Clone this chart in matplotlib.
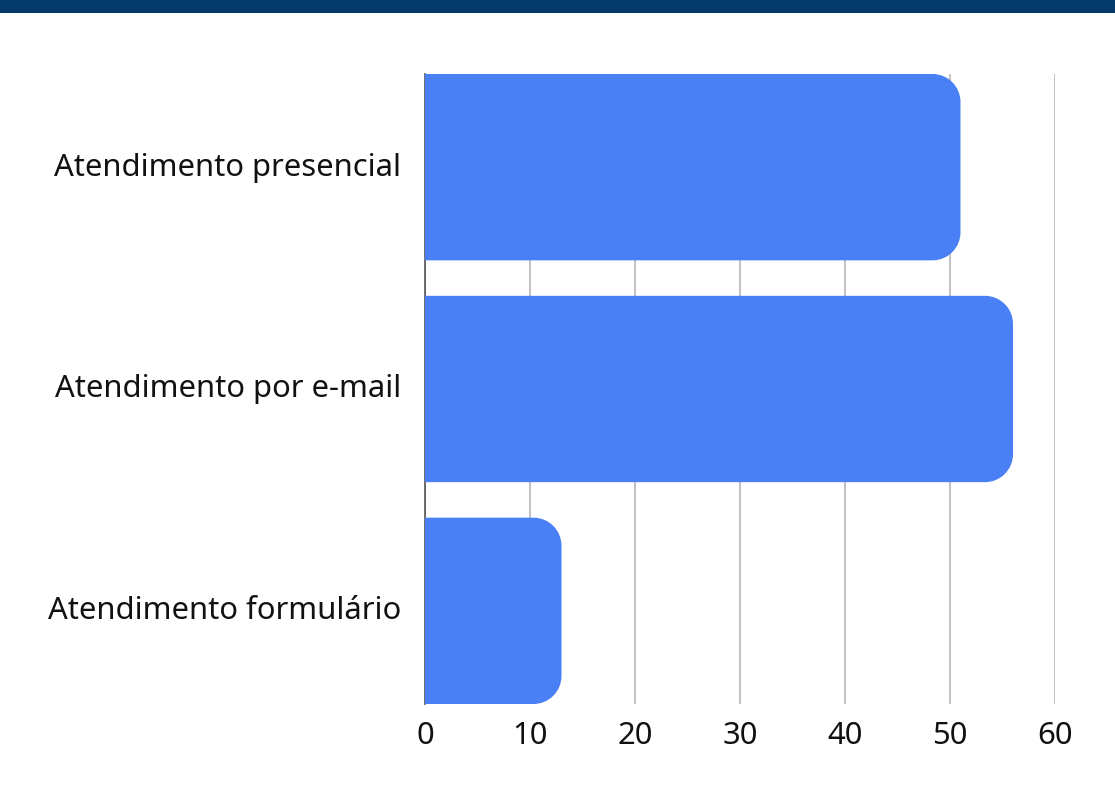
import matplotlib
matplotlib.use('Agg')
import matplotlib.pyplot as plt
import matplotlib.transforms as mtransforms
from matplotlib.patches import PathPatch, Rectangle
from matplotlib.path import Path

# data
categorias = ['Atendimento presencial', 'Atendimento por e-mail', 'Atendimento formulário']
valores = [51, 56, 13]
xticks = [0, 10, 20, 30, 40, 50, 60]

COR_BARRA = '#4a80f6'
COR_FAIXA = '#03396b'

W, H = 1115, 793
plt.rcParams['font.family'] = ['Noto Sans', 'DejaVu Sans']

fig = plt.figure(figsize=(W / 100, H / 100), dpi=100)
fig.patch.set_facecolor('white')

# top band
fig.patches.append(Rectangle((0, (H - 13) / H), 1, 13 / H, transform=fig.transFigure,
                             facecolor=COR_FAIXA, edgecolor='none', zorder=0))

ax_l, ax_r, ax_t, ax_b = 425, 1055, 74, 704
ax = fig.add_axes([ax_l / W, (H - ax_b) / H, (ax_r - ax_l) / W, (ax_b - ax_t) / H])

altura = 0.84
ax.set_xlim(0, 60)
ax.set_ylim(2 + altura / 2, -altura / 2)

# corner radius in pixels -> data units
raio_px = 28
px_x = (ax_r - ax_l) / 60.0
px_y = (ax_b - ax_t) / (2 + altura)
rx = raio_px / px_x
ry = raio_px / px_y
k = 0.5523


def barra_arredondada(v, y0, h):
    """bar with square left end and rounded right corners"""
    y1 = y0 + h
    verts = [(0, y0), (v - rx, y0),
             (v - rx + k * rx, y0), (v, y0 + ry - k * ry), (v, y0 + ry),
             (v, y1 - ry),
             (v, y1 - ry + k * ry), (v - rx + k * rx, y1), (v - rx, y1),
             (0, y1), (0, y0)]
    codes = [Path.MOVETO, Path.LINETO,
             Path.CURVE4, Path.CURVE4, Path.CURVE4,
             Path.LINETO,
             Path.CURVE4, Path.CURVE4, Path.CURVE4,
             Path.LINETO, Path.CLOSEPOLY]
    return Path(verts, codes)


for i, v in enumerate(valores):
    patch = PathPatch(barra_arredondada(v, i - altura / 2, altura),
                      facecolor=COR_BARRA, edgecolor='none', linewidth=0, zorder=3)
    ax.add_patch(patch)

ax.set_yticks(range(len(categorias)))
ax.set_yticklabels(categorias)
ax.set_xticks(xticks)
ax.set_xticklabels([str(t) for t in xticks])

ax.grid(axis='x', color='#c4c4c4', linewidth=1.5, zorder=1)
ax.set_axisbelow(True)
for s in ['top', 'right', 'bottom']:
    ax.spines[s].set_visible(False)
ax.spines['left'].set_color('#555555')
ax.spines['left'].set_linewidth(1.2)
ax.spines['left'].set_zorder(2)

ax.tick_params(axis='y', length=0, pad=17, labelsize=22.3, labelcolor='#111111')
ax.tick_params(axis='x', length=0, pad=12, labelsize=22.3, labelcolor='#111111')

# nudge category labels up a few pixels
desloc = mtransforms.ScaledTranslation(0, 3 / 100, fig.dpi_scale_trans)
for lbl in ax.get_yticklabels():
    lbl.set_transform(lbl.get_transform() + desloc)

fig.savefig('out.png', dpi=100, facecolor='white')
